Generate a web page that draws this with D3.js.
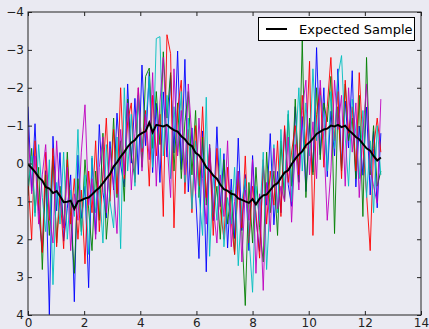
<!DOCTYPE html>
<html><head><meta charset="utf-8">
<script src="https://cdn.jsdelivr.net/npm/d3@7"></script>
<style>
html,body{margin:0;padding:0;background:#EAEAF2;}
svg{display:block;}
text{font-family:"DejaVu Sans",sans-serif;}
</style></head>
<body>
<svg id="chart" width="429" height="329"></svg>
<script>
const xs = [0.00,0.13,0.25,0.38,0.51,0.63,0.76,0.89,1.02,1.14,1.27,1.40,1.52,1.65,1.78,1.90,2.03,2.16,2.28,2.41,
2.54,2.67,2.79,2.92,3.05,3.17,3.30,3.43,3.55,3.68,3.81,3.93,4.06,4.19,4.32,4.44,4.57,4.70,4.82,4.95,
5.08,5.20,5.33,5.46,5.59,5.71,5.84,5.97,6.09,6.22,6.35,6.47,6.60,6.73,6.85,6.98,7.11,7.24,7.36,7.49,
7.62,7.74,7.87,8.00,8.12,8.25,8.38,8.50,8.63,8.76,8.89,9.01,9.14,9.27,9.39,9.52,9.65,9.77,9.90,10.03,
10.15,10.28,10.41,10.54,10.66,10.79,10.92,11.04,11.17,11.30,11.42,11.55,11.68,11.80,11.93,12.06,12.19,12.31,12.44,12.57];

const expected = [0.02,0.12,0.22,0.36,0.45,0.62,0.66,0.78,0.73,0.86,1.02,1.01,0.98,1.20,1.00,0.97,0.92,0.90,0.82,0.72,
0.64,0.52,0.40,0.28,0.08,-0.03,-0.18,-0.30,-0.44,-0.55,-0.62,-0.74,-0.80,-0.85,-1.08,-0.82,-1.02,-1.00,-0.98,-1.02,
-0.94,-0.88,-0.84,-0.72,-0.64,-0.52,-0.46,-0.28,-0.22,-0.08,0.10,0.18,0.32,0.40,0.56,0.68,0.72,0.80,0.82,0.92,
0.96,1.00,1.04,0.94,1.08,0.93,0.84,0.82,0.70,0.58,0.52,0.38,0.24,0.18,0.02,-0.12,-0.24,-0.32,-0.48,-0.56,
-0.66,-0.78,-0.84,-0.90,-0.92,-1.00,-0.98,-1.02,-0.96,-1.00,-0.88,-0.80,-0.70,-0.64,-0.52,-0.40,-0.34,-0.20,-0.08,-0.16];

const sampleBlue = [-1.50,0.73,-1.05,1.27,2.34,0.19,3.99,-0.72,1.25,-0.29,2.05,1.18,0.30,3.65,-0.22,1.45,0.60,3.28,-0.14,1.87,
-1.03,0.76,1.44,-0.58,0.70,-1.33,0.04,0.62,-2.10,-0.01,-1.72,0.29,-2.60,-0.47,-2.42,0.24,-1.59,0.50,-1.89,-0.17,
-2.33,-0.28,-2.97,0.16,-2.75,0.75,-0.94,0.78,2.51,-0.86,2.86,-0.41,1.51,-0.97,1.14,-0.26,2.23,0.41,1.98,-0.67,
1.77,0.29,2.30,-0.21,1.46,2.32,0.07,1.10,-0.79,1.62,0.21,1.30,-0.92,0.56,1.13,-1.50,0.48,-1.24,0.74,-1.07,
0.23,-3.06,-0.23,-2.00,0.35,-1.38,-0.20,-2.50,0.12,-1.65,-0.41,-2.45,0.62,-0.99,0.31,-1.49,0.83,-0.85,1.17,-0.80];

const sampleGreen = [0.85,-0.40,1.30,0.10,2.80,0.30,1.90,-0.20,2.10,0.60,1.70,-0.30,1.40,2.90,0.40,1.80,-0.10,1.20,2.30,0.20,
1.50,-0.80,2.00,0.70,-1.20,0.90,-0.60,1.00,-1.70,-0.20,0.40,-1.80,0.10,-2.30,-2.52,-0.40,-1.90,-0.50,-2.95,-1.20,
-2.40,0.20,-1.60,0.40,-1.10,-1.90,0.30,-1.40,0.90,-0.70,1.10,-0.50,1.40,0.60,2.00,-0.10,1.60,0.70,2.40,0.20,
1.80,3.75,0.50,2.10,0.10,1.70,2.60,-0.30,1.30,0.20,1.90,-0.60,1.00,-1.30,0.60,-1.70,0.50,-3.25,0.90,-1.20,
0.30,-2.00,-0.10,-1.60,-1.10,-2.30,1.85,-1.50,0.20,-2.10,-0.60,-1.20,0.40,-1.80,1.40,-2.80,0.30,-1.00,0.60,0.20];

const sampleRed = [0.40,2.00,-0.60,1.10,2.35,-0.30,1.50,-0.40,2.20,0.80,2.25,-0.10,1.60,0.40,2.00,0.70,2.65,0.20,1.30,-0.60,
1.80,0.30,-1.20,1.00,-0.90,0.80,-2.00,0.40,-1.10,-1.60,0.50,-2.00,-0.30,-1.40,0.60,-1.80,-0.20,-1.30,1.40,-3.40,
-2.90,1.70,-1.40,-2.20,0.80,-0.90,1.30,-1.00,0.60,-1.50,0.90,-0.30,1.90,-0.40,1.20,2.00,0.10,1.50,2.40,0.40,
1.70,-0.20,2.10,0.60,1.30,2.50,-0.10,1.60,0.20,1.10,-0.60,1.40,-1.00,0.50,-0.30,-1.00,0.30,-1.80,-0.40,-2.70,
1.90,-1.30,-2.00,0.10,-1.50,-2.80,-0.60,-1.90,0.40,-2.20,-0.80,-1.50,0.20,-2.40,-0.50,0.80,2.30,-0.40,-1.20,-0.30];

const sampleCyan = [0.60,-0.20,1.40,-0.50,0.90,1.80,-0.10,3.20,0.50,1.60,-0.30,2.00,0.70,1.40,-0.90,1.90,0.30,2.40,-0.20,1.30,
0.60,2.10,-0.50,1.00,1.70,-0.70,2.25,-2.00,0.20,-1.30,0.60,-1.80,-0.40,-1.00,-2.30,0.10,-3.30,-3.35,-0.20,-1.80,
0.40,-1.50,-0.30,-1.90,0.50,-1.20,1.20,-0.60,0.80,1.90,-1.75,2.45,0.30,1.50,-0.40,2.20,0.90,1.60,0.10,2.70,
1.00,0.40,1.90,3.40,0.60,1.50,-0.30,2.80,0.90,-0.50,1.30,-0.90,0.70,-1.40,1.00,-0.30,-2.00,0.20,-1.60,-0.20,
-2.50,-0.60,-1.80,-1.20,0.20,-1.90,-0.40,-2.30,-2.85,-0.70,0.60,-1.70,-0.80,0.40,-1.40,0.90,-0.60,1.30,-1.00,0.30];

const sampleMagenta = [-0.90,0.80,-0.20,1.60,0.30,-0.50,1.30,2.10,-0.60,0.90,1.70,0.10,2.30,0.80,1.50,-0.30,-1.55,1.10,0.40,2.00,
0.10,-0.70,1.30,-0.40,0.60,1.85,-0.90,0.30,-1.60,0.70,-0.80,-2.00,0.20,-1.30,-0.10,-2.40,0.60,-1.60,-2.80,-0.60,
0.90,-2.50,-0.20,-1.40,0.30,-2.10,-0.70,0.80,-1.20,0.40,1.60,-0.50,1.10,2.10,0.30,1.40,-0.60,2.20,1.00,0.20,
2.60,0.70,1.50,-0.10,2.90,0.80,3.35,0.50,1.80,-0.40,1.20,0.60,1.00,-0.70,1.55,-0.50,0.70,-1.40,-2.20,0.30,
-1.10,0.40,-2.20,-0.60,1.50,0.20,-2.20,-0.90,-1.80,0.60,-2.00,-0.30,-1.60,0.90,-0.80,-2.10,0.10,0.60,1.05,-1.70];

const seriesNames = ["b","g","r","c","m"];
const seriesColors = ["#0000ff","#008000","#ff0000","#00bfbf","#bf00bf"];
const seriesValues = [sampleBlue, sampleGreen, sampleRed, sampleCyan, sampleMagenta];
const xTicks = [0,2,4,6,8,10,12,14];
const yTicks = [-4,-3,-2,-1,0,1,2,3,4];
const legendLabel = "Expected Sample";

const svg = d3.select("#chart");
const L = 28, R = 421, T = 12, B = 315;
const x = d3.scaleLinear().domain([0,14]).range([L,R]);
const y = d3.scaleLinear().domain([-4,4]).range([T,B]);

svg.append("rect").attr("width",429).attr("height",329).attr("fill","#EAEAF2");

svg.append("defs").append("clipPath").attr("id","clip")
  .append("rect").attr("x",L).attr("y",T).attr("width",R-L).attr("height",B-T);

const fmt = d => d < 0 ? "\u2212" + Math.abs(d) : String(d);

const line = d3.line().x((d,i)=>x(xs[i])).y(d=>y(d));
const g = svg.append("g").attr("clip-path","url(#clip)");
seriesValues.forEach((vals,k)=>{
  g.append("path").datum(vals).attr("d",line)
    .attr("fill","none").attr("stroke",seriesColors[k]).attr("stroke-width",1)
    .attr("stroke-opacity",0.9).attr("stroke-linejoin","miter");
});
g.append("path").datum(expected).attr("d",line)
  .attr("fill","none").attr("stroke","#000").attr("stroke-width",2);

// axes with inward ticks
const axB = d3.axisBottom(x).tickValues(xTicks).tickSizeInner(-4).tickSizeOuter(0).tickPadding(3).tickFormat(fmt);
const axT = d3.axisTop(x).tickValues(xTicks).tickSizeInner(-4).tickSizeOuter(0).tickFormat("");
const axL = d3.axisLeft(y).tickValues(yTicks).tickSizeInner(-4).tickSizeOuter(0).tickPadding(4).tickFormat(fmt);
const axR = d3.axisRight(y).tickValues(yTicks).tickSizeInner(-4).tickSizeOuter(0).tickFormat("");
function style(sel){
  sel.select(".domain").remove();
  sel.selectAll("line").attr("stroke","#222").attr("stroke-width",1);
  sel.selectAll("text").attr("fill","#222").style("font-size","12px").style("font-family","DejaVu Sans");
}
svg.append("g").attr("transform",`translate(0,${B})`).call(axB).call(style);
svg.append("g").attr("transform",`translate(0,${T})`).call(axT).call(style);
svg.append("g").attr("transform",`translate(${L},0)`).call(axL).call(style);
svg.append("g").attr("transform",`translate(${R},0)`).call(axR).call(style);

svg.append("rect").attr("x",L).attr("y",T).attr("width",R-L).attr("height",B-T)
  .attr("fill","none").attr("stroke","#222").attr("stroke-width",1);

// legend
const lg = svg.append("g");
lg.append("rect").attr("x",258.5).attr("y",17.5).attr("width",156).attr("height",23)
  .attr("fill","#fff").attr("stroke","#000").attr("stroke-width",1);
lg.append("line").attr("x1",266).attr("x2",287).attr("y1",29).attr("y2",29)
  .attr("stroke","#000").attr("stroke-width",2);
lg.append("text").attr("x",299).attr("y",33.5).text(legendLabel)
  .style("font-size","13px").attr("fill","#000");
</script>
</body></html>
